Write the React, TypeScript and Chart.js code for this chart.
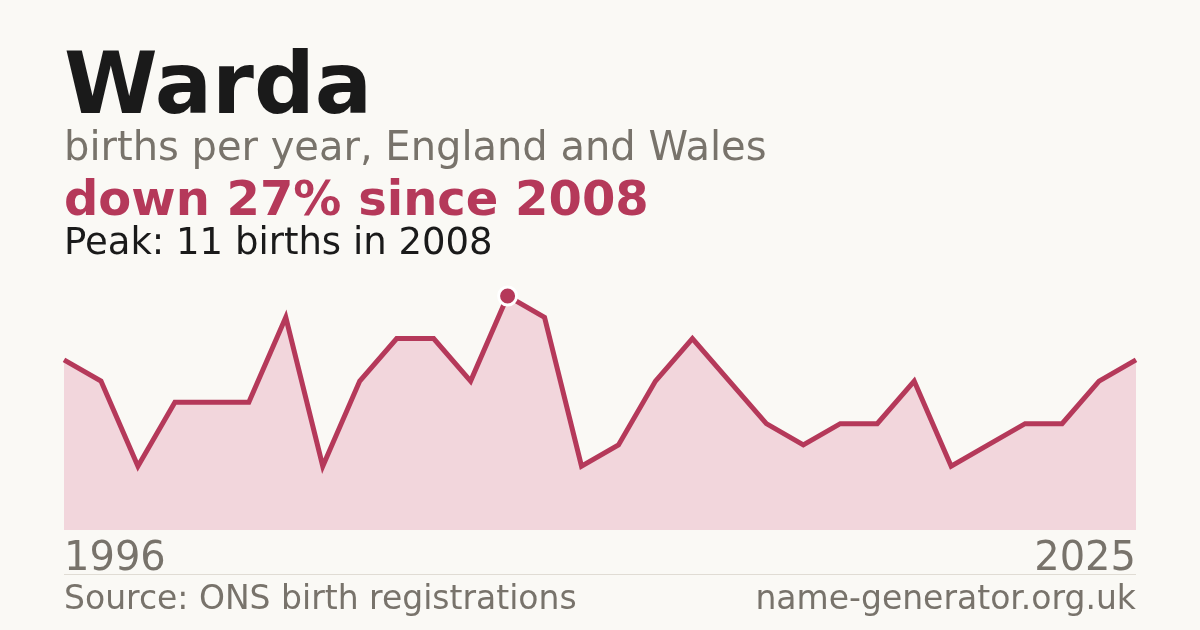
import React, { useEffect, useRef } from "react";
import { Chart, registerables } from "chart.js";

Chart.register(...registerables);

const years = [
  "1996", "1997", "1998", "1999", "2000", "2001", "2002", "2003", "2004", "2005",
  "2006", "2007", "2008", "2009", "2010", "2011", "2012", "2013", "2014", "2015",
  "2016", "2017", "2018", "2019", "2020", "2021", "2022", "2023", "2024", "2025",
];
const births = [
  8, 7, 3, 6, 6, 6, 10, 3, 7, 9,
  9, 7, 11, 10, 3, 4, 7, 9, 7, 5,
  4, 5, 5, 7, 3, 4, 5, 5, 7, 8,
];
const peakIndex = 12;
const title = "Warda";
const subtitle = "births per year, England and Wales";
const headline = "down 27% since 2008";
const peakText = "Peak: 11 births in 2008";
const firstYear = "1996";
const lastYear = "2025";
const source = "Source: ONS birth registrations";
const site = "name-generator.org.uk";

const RED = "#b5395a";
const GRAY = "#78736b";
const FONT = '"DejaVu Sans", sans-serif';

export default function App() {
  const ref = useRef<HTMLCanvasElement | null>(null);

  useEffect(() => {
    document.body.style.margin = "0";
    const ctx = ref.current!.getContext("2d")!;
    const chart = new Chart(ctx, {
      type: "line",
      data: {
        labels: years,
        datasets: [
          {
            data: births,
            borderColor: RED,
            borderWidth: 5,
            backgroundColor: "#f2d6dc",
            fill: "origin",
            tension: 0,
            clip: false as any,
            pointRadius: births.map((_, i) => (i === peakIndex ? 9 : 0)),
            pointHoverRadius: births.map((_, i) => (i === peakIndex ? 9 : 0)),
            pointBackgroundColor: RED,
            pointBorderColor: "#ffffff",
            pointBorderWidth: 3,
          },
        ],
      },
      options: {
        animation: false,
        responsive: false,
        maintainAspectRatio: false,
        layout: { padding: { left: 64, right: 64, top: 296, bottom: 100 } },
        plugins: { legend: { display: false }, tooltip: { enabled: false } },
        scales: {
          x: { display: false, offset: false },
          y: { display: false, min: 0, max: 11 },
        },
      },
    });
    return () => chart.destroy();
  }, []);

  const text = (
    content: string,
    top: number,
    size: number,
    color: string,
    weight: number | string = "normal",
    align: "left" | "right" = "left"
  ) => (
    <div
      style={{
        position: "absolute",
        top,
        left: align === "left" ? 64 : undefined,
        right: align === "right" ? 64 : undefined,
        fontFamily: FONT,
        fontSize: size,
        lineHeight: `${size}px`,
        color,
        fontWeight: weight as any,
        whiteSpace: "nowrap",
      }}
    >
      {content}
    </div>
  );

  return (
    <div
      style={{
        position: "relative",
        width: 1200,
        height: 630,
        background: "#faf9f5",
        overflow: "hidden",
      }}
    >
      <canvas
        ref={ref}
        width={1200}
        height={630}
        style={{ position: "absolute", left: 0, top: 0, width: 1200, height: 630 }}
      />
      {text(title, 41, 85, "#1a1a1a", "bold")}
      {text(subtitle, 126.2, 40, GRAY)}
      {text(headline, 174.4, 48, RED, "bold")}
      {text(peakText, 222.7, 37, "#1a1a1a")}
      {text(firstYear, 536.2, 40, GRAY)}
      {text(lastYear, 536.2, 40, GRAY, "normal", "right")}
      <div
        style={{
          position: "absolute",
          left: 64,
          width: 1072,
          top: 574,
          height: 1,
          background: "#e0dcd4",
        }}
      />
      {text(source, 581.1, 33, GRAY)}
      {text(site, 581.1, 33, GRAY, "normal", "right")}
    </div>
  );
}
